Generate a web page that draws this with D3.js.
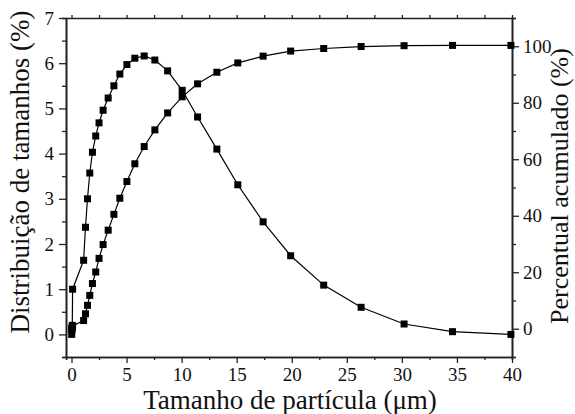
<!DOCTYPE html>
<html>
<head>
<meta charset="utf-8">
<script src="https://cdn.jsdelivr.net/npm/d3@7"></script>
<style>
  body { margin: 0; background: #fff; }
</style>
</head>
<body>
<div id="chart"></div>
<script>
// particle sizes (um), shared by both curves
let sizes = [0.02, 0.04, 0.07, 0.1, 1.1, 1.27, 1.45, 1.66, 1.9, 2.2, 2.5, 2.87, 3.33, 3.85, 4.39,
  5.03, 5.75, 6.6, 7.57, 8.73, 10.05, 11.45, 13.2, 15.1, 17.4, 19.9, 22.9, 26.3, 30.2, 34.6, 39.9];
// size distribution (%), left axis
let distribution = [0.0, 0.1, 0.2, 1.0, 1.64, 2.37, 3.0, 3.57, 4.03, 4.39, 4.68, 4.96, 5.23, 5.5, 5.76,
  5.97, 6.11, 6.16, 6.07, 5.83, 5.4, 4.81, 4.1, 3.31, 2.49, 1.74, 1.09, 0.6, 0.23, 0.06, 0.0];
// cumulative percent, right axis
let cumulative = [0.0, 0.3, 0.6, 1.0, 2.9, 5.3, 8.3, 11.8, 16.0, 20.1, 24.9, 29.8, 34.9, 40.5, 46.2,
  52.1, 58.4, 64.5, 70.4, 76.4, 82.1, 86.7, 90.8, 94.1, 96.5, 98.3, 99.2, 99.9, 100.2, 100.3, 100.3];

let xTicks = [0, 5, 10, 15, 20, 25, 30, 35, 40];
let leftTicks = [0, 1, 2, 3, 4, 5, 6, 7];
let rightTicks = [0, 20, 40, 60, 80, 100];

let width = 575, height = 414;
let margin = {top: 18, right: 63, bottom: 57, left: 66};
let font = '"Liberation Serif", "Noto Serif", "DejaVu Serif", "Liberation Sans", sans-serif';

let svg = d3.select("#chart")
  .append("svg")
    .attr("width", width)
    .attr("height", height)
    .attr("font-family", font);

let x = d3.scaleLinear()
  .domain([-0.5, 40])
  .range([margin.left, width - margin.right]);

let yLeft = d3.scaleLinear()
  .domain([-0.5, 7])
  .range([height - margin.bottom, margin.top]);

let yRight = d3.scaleLinear()
  .domain([-10, 110])
  .range([height - margin.bottom, margin.top]);

function styleAxis(g) {
  g.attr("font-family", font).attr("font-size", 19);
  g.selectAll("path.domain").attr("stroke", "#222").attr("stroke-width", 1.6);
  g.selectAll(".tick line").attr("stroke", "#222").attr("stroke-width", 1.3);
  g.selectAll(".tick text").attr("fill", "#111");
}

// minor ticks first, major on top
let xMinor = d3.range(0, 41, 2.5).filter(v => v % 5 !== 0);
svg.append("g")
  .attr("transform", "translate(0," + (height - margin.bottom) + ")")
  .call(d3.axisBottom(x).tickValues(xMinor).tickSize(3).tickFormat(""))
  .call(styleAxis);
svg.append("g")
  .attr("transform", "translate(0," + (height - margin.bottom) + ")")
  .call(d3.axisBottom(x).tickValues(xTicks).tickSize(6).tickPadding(5).tickSizeOuter(0))
  .call(styleAxis);

// top axis, ticks only
svg.append("g")
  .attr("transform", "translate(0," + margin.top + ")")
  .call(d3.axisTop(x).tickValues(d3.range(0, 41, 2.5)).tickSize(3).tickFormat("").tickSizeOuter(0))
  .call(styleAxis);

let leftMinor = d3.range(-0.5, 7, 1);
svg.append("g")
  .attr("transform", "translate(" + margin.left + ",0)")
  .call(d3.axisLeft(yLeft).tickValues(leftMinor).tickSize(4).tickFormat(""))
  .call(styleAxis);
svg.append("g")
  .attr("transform", "translate(" + margin.left + ",0)")
  .call(d3.axisLeft(yLeft).tickValues(leftTicks).tickSize(7).tickPadding(5).tickSizeOuter(0))
  .call(styleAxis);

let rightMinor = d3.range(-10, 111, 20);
svg.append("g")
  .attr("transform", "translate(" + (width - margin.right) + ",0)")
  .call(d3.axisRight(yRight).tickValues(rightMinor).tickSize(4).tickFormat(""))
  .call(styleAxis);
svg.append("g")
  .attr("transform", "translate(" + (width - margin.right) + ",0)")
  .call(d3.axisRight(yRight).tickValues(rightTicks).tickSize(7).tickPadding(4).tickSizeOuter(0))
  .call(styleAxis);

// curves
let distData = sizes.map((s, i) => ({x: s, y: distribution[i]}));
let cumData = sizes.map((s, i) => ({x: s, y: cumulative[i]}));

let lineLeft = d3.line().x(d => x(d.x)).y(d => yLeft(d.y));
let lineRight = d3.line().x(d => x(d.x)).y(d => yRight(d.y));

svg.append("path").datum(distData)
  .attr("d", lineLeft).attr("fill", "none").attr("stroke", "#000").attr("stroke-width", 1.2);
svg.append("path").datum(cumData)
  .attr("d", lineRight).attr("fill", "none").attr("stroke", "#000").attr("stroke-width", 1.2);

let ms = 7;
svg.append("g").selectAll("rect")
  .data(distData)
  .enter().append("rect")
    .attr("x", d => x(d.x) - ms / 2)
    .attr("y", d => yLeft(d.y) - ms / 2)
    .attr("width", ms).attr("height", ms)
    .attr("fill", "#000");
svg.append("g").selectAll("rect")
  .data(cumData)
  .enter().append("rect")
    .attr("x", d => x(d.x) - ms / 2)
    .attr("y", d => yRight(d.y) - ms / 2)
    .attr("width", ms).attr("height", ms)
    .attr("fill", "#000");

// axis titles
svg.append("text")
  .attr("x", 290)
  .attr("y", 409)
  .attr("text-anchor", "middle")
  .attr("font-size", 27)
  .attr("fill", "#111")
  .text("Tamanho de partícula (μm)");

svg.append("text")
  .attr("transform", "translate(29,172) rotate(-90)")
  .attr("text-anchor", "middle")
  .attr("font-size", 27)
  .attr("fill", "#111")
  .text("Distribuição de tamanhos (%)");

svg.append("text")
  .attr("transform", "translate(568,186) rotate(-90)")
  .attr("text-anchor", "middle")
  .attr("font-size", 26)
  .attr("fill", "#111")
  .text("Percentual acumulado (%)");
</script>
</body>
</html>
